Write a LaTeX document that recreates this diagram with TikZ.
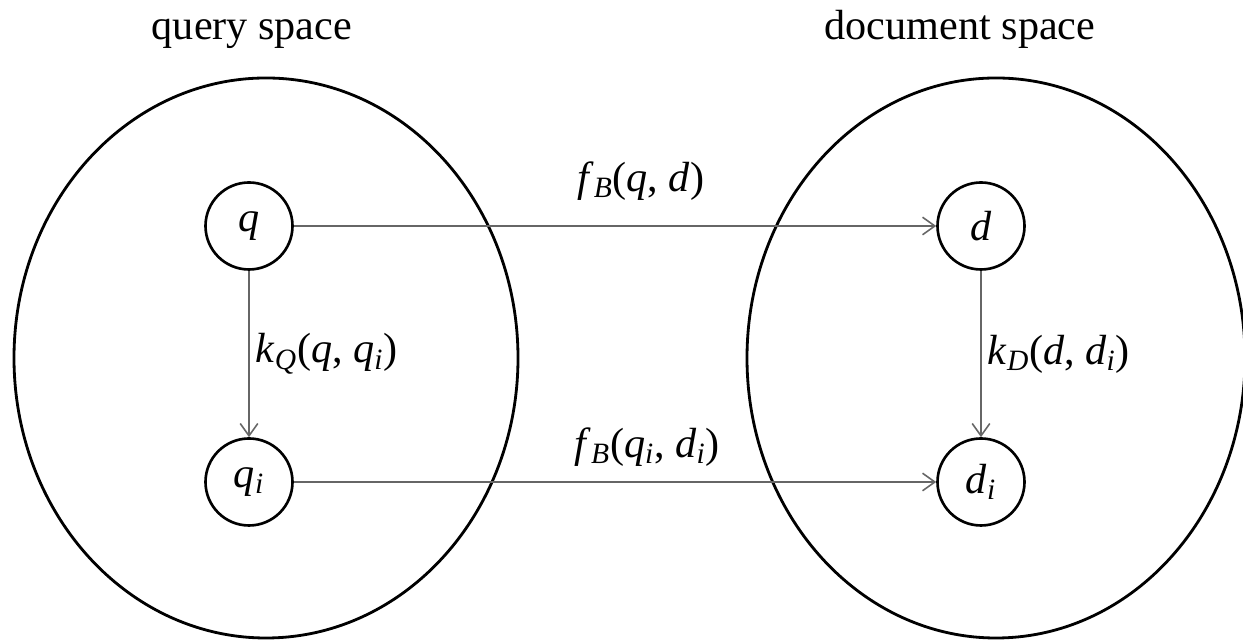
\documentclass[tikz,border=0pt]{standalone}
\usepackage{fontspec}
\setmainfont{Liberation Serif}
\usetikzlibrary{arrows.meta}

\newcommand{\var}[1]{\textit{#1}}
\newcommand{\sub}[2]{\var{#1}\textsubscript{\var{#2}}}

\tikzset{
  space/.style={line width=1.6pt},
  point/.style={draw, circle, line width=1.5pt, minimum size=1.74cm, inner sep=0pt},
  map/.style={draw=black!60, line width=0.9pt, -{Straight Barb[length=7pt,width=10pt]}},
}

\begin{document}
\begin{tikzpicture}[font=\fontsize{24}{28}\selectfont]
        \useasboundingbox (0,0) rectangle (24.86,12.8);

        % Query space
        \draw[space] (5.32,5.64) ellipse (5.04 and 5.6);
        \node[anchor=base] (qlabel) at (5.04,12.0) {query space};
        \node[point] (q) at (4.98,8.28) {\var{q}};
        \node[point] (qi) at (4.98,3.16) {\sub{q}{i}};

        % Document space
        \draw[space] (19.92,5.64) ellipse (4.98 and 5.6);
        \node[anchor=base] (dlabel) at (19.2,12.0) {document space};
        \node[point] (d) at (19.62,8.28) {\var{d}};
        \node[point] (di) at (19.62,3.16) {\sub{d}{i}};

        % Mappings
        \draw[map] (q) -- (d) node[pos=0.54, above=0.38cm] {\sub{f}{B}(\var{q}, \var{d})};
        \draw[map] (qi) -- (di) node[pos=0.55, above=0.18cm] {\sub{f}{B}(\sub{q}{i}, \sub{d}{i})};
        \draw[map] (q) -- (qi) node[midway, right] {\sub{k}{Q}(\var{q}, \sub{q}{i})};
        \draw[map] (d) -- (di) node[midway, right] {\sub{k}{D}(\var{d}, \sub{d}{i})};
    \end{tikzpicture}
\end{document}
